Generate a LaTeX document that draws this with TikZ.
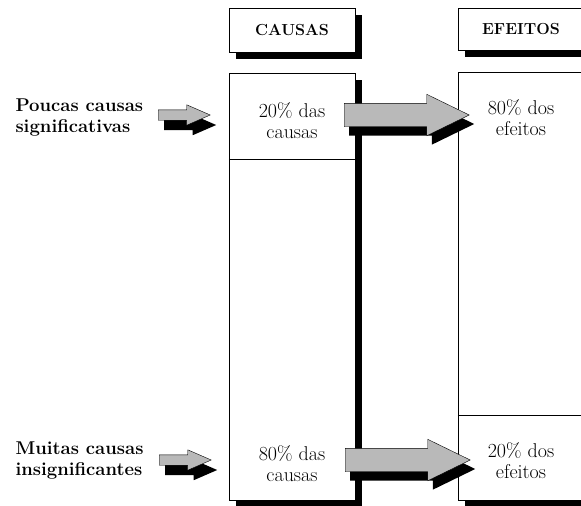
\documentclass[tikz,border=0pt]{standalone}
\usetikzlibrary{shapes.arrows,shadows}
\tikzset{>=latex}
\tikzset{
  box/.style={draw, fill=white, minimum width=126pt, inner sep=0pt,
    drop shadow={shadow xshift=7pt, shadow yshift=-7pt, fill=black, opacity=1}},
  head/.style={box, minimum height=44pt, font=\fontsize{16}{18}\selectfont\bfseries},
  body/.style={align=center, font=\fontsize{20}{21}\selectfont},
  side/.style={align=left, anchor=west, font=\fontsize{18.5}{21}\selectfont\bfseries},
  bigarrow/.style={single arrow, anchor=tail, draw, fill=gray!55, inner xsep=0pt, inner ysep=11.5pt,
    minimum height=125pt, minimum width=41pt, single arrow head extend=9pt,
    single arrow tip angle=52,
    drop shadow={shadow xshift=5pt, shadow yshift=-9pt, fill=black, opacity=1}},
  smallarrow/.style={single arrow, anchor=tail, draw, fill=gray!55, inner xsep=0pt, inner ysep=5pt,
    minimum height=52pt, minimum width=20pt, single arrow head extend=5pt,
    single arrow tip angle=47,
    drop shadow={shadow xshift=6pt, shadow yshift=-10pt, fill=black, opacity=1}}
}

\begin{document}
\begin{tikzpicture}[x=1pt,y=-1pt]
            \useasboundingbox (0,0) rectangle (581,506);
            \clip (0,0) rectangle (581,506);
            % headers
            \node[head] (hc) at (292,30) {CAUSAS};
            \node[head, minimum height=42pt] (he) at (521,29) {EFEITOS};
            % columns
            \node[box, minimum height=427pt] (cc) at (292,286.5) {};
            \node[box, minimum height=428pt] (ce) at (521,286) {};
            \draw (cc.west |- 0,159) -- (cc.east |- 0,159);
            \draw (ce.west |- 0,415) -- (ce.east |- 0,415);
            % texts
            \node[body] (c20) at (292,121) {20\% das\\causas};
            \node[body] (e80) at (521,118) {80\% dos\\efeitos};
            \node[body] (c80) at (292,464) {80\% das\\causas};
            \node[body] (e20) at (521,461) {20\% dos\\efeitos};
            \node[side] (poucas) at (12,118) {Poucas causas\\significativas};
            \node[side] (muitas) at (12,461) {Muitas causas\\insignificantes};
            % arrows
            \node[smallarrow] (a1) at (158,115) {};
            \node[smallarrow] (a2) at (159,460) {};
            \node[bigarrow] (b1) at (344,115) {};
            \node[bigarrow] (b2) at (345,460) {};
        \end{tikzpicture}
\end{document}
